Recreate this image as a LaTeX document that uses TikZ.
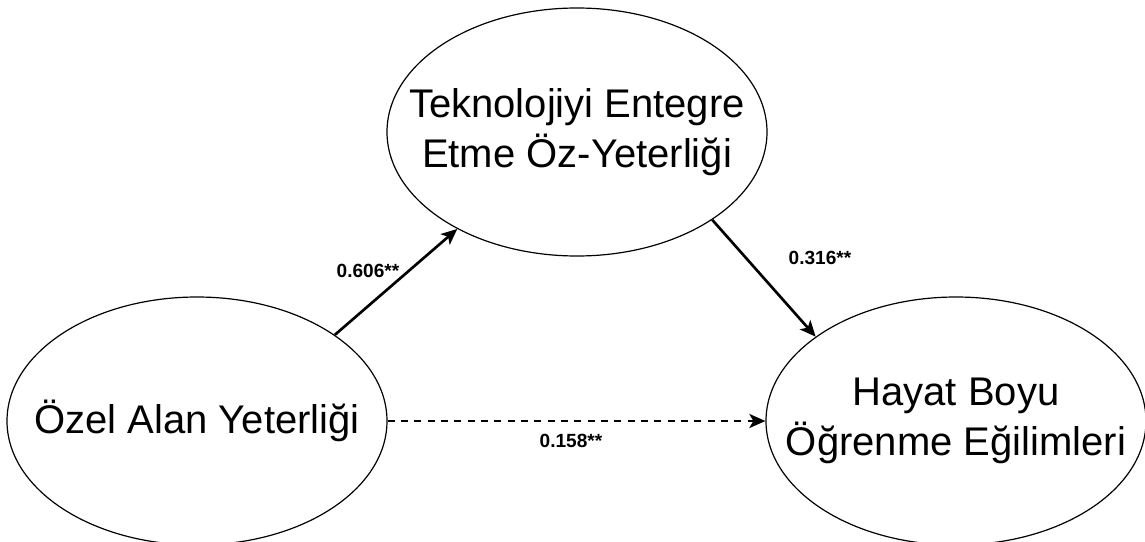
\documentclass[tikz,border=0pt]{standalone}
\usepackage{fontspec}
\setmainfont{Liberation Sans}
\usetikzlibrary{shapes.geometric,arrows.meta}

\tikzset{
  latent/.style={draw=black, line width=0.9pt, ellipse, inner sep=0pt,
                 minimum width=285pt, minimum height=186pt},
  varname/.style={align=center, font=\fontsize{30}{37.5}\selectfont},
  coef/.style={font=\bfseries\fontsize{14.3}{17}\selectfont},
  path/.style={line width=2pt, -{Stealth[length=12pt,width=10.5pt,inset=3pt]}},
  weakpath/.style={path, dash pattern=on 5.4pt off 4.6pt}
}

\begin{document}
\begin{tikzpicture}[x=0.75pt, y=-0.75pt]
  \useasboundingbox (0,0) rectangle (1145,542);

  % latent constructs
  \node[latent] (ozel) at (197,421) {};
  \node[latent] (tek)  at (577,132) {};
  \node[latent] (hayat) at (956,421) {};

  \node[varname] (ozelT)  at (ozel.center)  {Özel Alan Yeterliği};
  \node[varname] (tekT)   at (tek.center)   {Teknolojiyi Entegre\\Etme Öz-Yeterliği};
  \node[varname] (hayatT) at (hayat.center) {Hayat Boyu\\Öğrenme Eğilimleri};

  % structural paths
  \draw[path] (ozel.32) -- (tek.219.7);
  \draw[path] (tek.-33.7) -- (hayat.149);
  \draw[weakpath] (ozel.east) -- (hayat.west);

  % path coefficients
  \node[coef] (c1) at (368,271) {0.606**};
  \node[coef] (c2) at (820,258) {0.316**};
  \node[coef] (c3) at (571,441) {0.158**};
\end{tikzpicture}
\end{document}
